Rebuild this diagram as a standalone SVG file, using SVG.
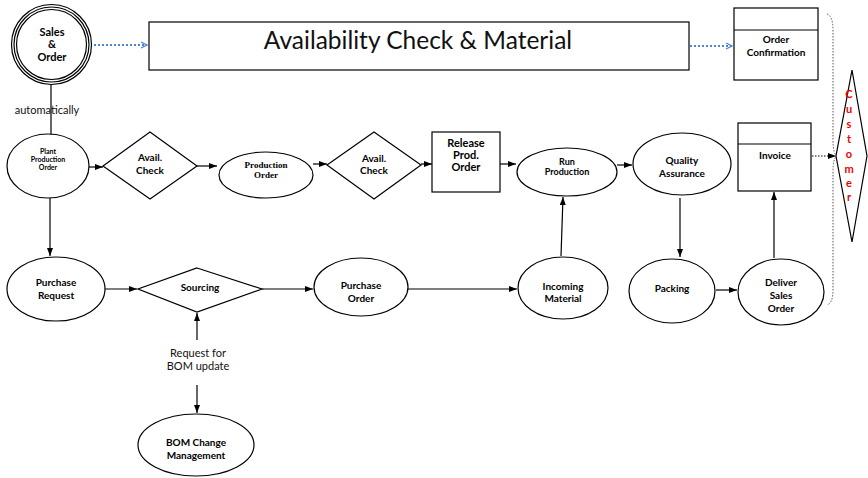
<svg xmlns="http://www.w3.org/2000/svg" width="868" height="478" viewBox="0 0 868 478">
<defs>
<marker id="ah" markerWidth="8" markerHeight="6" refX="8" refY="3" orient="auto" markerUnits="userSpaceOnUse"><path d="M0,0 L8,3 L0,6 Z" fill="#000"/></marker>
<marker id="bh" markerWidth="8" markerHeight="8" refX="7" refY="4" orient="auto" markerUnits="userSpaceOnUse"><path d="M1,1 L7,4 L1,7" fill="none" stroke="#4a86d8" stroke-width="1.3"/></marker>
<style>
.s{fill:#fff;stroke:#000;stroke-width:1.2}
.t{font-family:Lato,"Liberation Sans",sans-serif;font-weight:bold;font-size:10px;text-anchor:middle;fill:#000}
.t7{font-size:7px}
.t9{font-size:9px}
.t11{font-size:11px}
.sf{font-family:"Liberation Serif",serif}
.n{font-family:Lato,"Liberation Sans",sans-serif;font-size:11px;text-anchor:middle;fill:#111}
.c{stroke:#000;stroke-width:1.2;fill:none;marker-end:url(#ah)}
.b{stroke:#4a86d8;stroke-width:2;stroke-dasharray:2,2;fill:none;marker-end:url(#bh)}
</style>
</defs>
<g id="connectors">
<path class="b" d="M94,45 L147,45"/>
<path class="b" d="M690,46 L732,46"/>
<path class="c" d="M51,85 L51,142"/>
<path class="c" d="M89,167 L103,167"/>
<path class="c" d="M197,166 L217,166"/>
<path class="c" d="M313,164 L327,164"/>
<path class="c" d="M421,164 L432,164"/>
<path class="c" d="M500,164 L516,164"/>
<path class="c" d="M617,165 L632,165"/>
<path class="c" d="M680,198 L680,257"/>
<path class="c" d="M716,290 L737,290"/>
<path class="c" d="M774,258 L774,192"/>
<path class="c" d="M561,256 L563,197"/>
<path class="c" d="M407,289 L517,289"/>
<path class="c" d="M50,198 L50,256"/>
<path class="c" d="M104,289 L137,289"/>
<path class="c" d="M262,289 L313,289"/>
<path class="c" d="M197,340 L197,313"/>
<path class="c" d="M197,385 L197,413"/>
<path d="M812,156 L836,156" stroke="#000" stroke-width="1" stroke-dasharray="1.5,1.5" fill="none" marker-end="url(#ah)"/>
<path d="M827,14 Q833,16 833,30 L833,140 Q833,154 837,156 Q833,158 833,172 L833,290 Q833,303 827,305" stroke="#555" stroke-width="1" stroke-dasharray="1.5,1.5" fill="none"/>
<text class="n" x="47" y="114">automatically</text>
<text class="n" x="198" y="357">Request for</text>
<text class="n" x="198" y="370">BOM update</text>
</g>
<g id="sales-order">
<circle class="s" cx="51.5" cy="44.5" r="40"/>
<circle class="s" cx="51.5" cy="44.5" r="37.5"/>
<circle class="s" cx="51.5" cy="44.5" r="35"/>
<text class="t t11" x="52" y="36">Sales</text>
<text class="t t11" x="52" y="48">&amp;</text>
<text class="t t11" x="52" y="61">Order</text>
</g>
<g id="availability">
<rect class="s" x="149" y="22" width="540" height="48"/>
<text x="418" y="49" font-family="Lato,'Liberation Sans',sans-serif" font-size="24.5" text-anchor="middle" fill="#111">Availability Check &amp; Material</text>
</g>
<g id="order-confirmation">
<rect class="s" x="734" y="8" width="84" height="72"/>
<line x1="734" y1="30" x2="818" y2="30" stroke="#000" stroke-width="1.2"/>
<text class="t" x="776" y="43">Order</text>
<text class="t" x="776" y="56">Confirmation</text>
</g>
<g id="customer">
<polygon class="s" points="852,70 867,156 852,242 836,156"/>
<g font-family="Lato,'Liberation Sans',sans-serif" font-weight="bold" font-size="11" fill="#e00" text-anchor="middle">
<text x="849" y="98">C</text><text x="849" y="113">u</text><text x="849" y="128">s</text><text x="849" y="143">t</text><text x="849" y="158">o</text><text x="849" y="173">m</text><text x="849" y="187">e</text><text x="849" y="201">r</text>
</g>
</g>
<g id="plant-production-order">
<ellipse class="s" cx="48" cy="166" rx="41" ry="32"/>
<text class="t t7" x="48" y="154">Plant</text>
<text class="t t7" x="48" y="162">Production</text>
<text class="t t7" x="48" y="170">Order</text>
</g>
<g id="avail-check-1">
<polygon class="s" points="150,132 197,166 150,199 103,166"/>
<text class="t" x="150" y="161">Avail.</text>
<text class="t" x="150" y="174">Check</text>
</g>
<g id="production-order">
<ellipse class="s" cx="266" cy="175" rx="47" ry="23"/>
<text class="t t9 sf" x="266" y="168">Production</text>
<text class="t t9 sf" x="266" y="178">Order</text>
</g>
<g id="avail-check-2">
<polygon class="s" points="374,132 421,165 374,199 327,165"/>
<text class="t" x="374" y="162">Avail.</text>
<text class="t" x="374" y="174">Check</text>
</g>
<g id="release-prod-order">
<rect class="s" x="432" y="132" width="68" height="60"/>
<text class="t t11" x="466" y="147">Release</text>
<text class="t t11" x="466" y="159">Prod.</text>
<text class="t t11" x="466" y="171">Order</text>
</g>
<g id="run-production">
<ellipse class="s" cx="567" cy="172" rx="50" ry="24"/>
<text class="t t9" x="567" y="165">Run</text>
<text class="t t9" x="567" y="175">Production</text>
</g>
<g id="quality-assurance">
<ellipse class="s" cx="682" cy="164" rx="49" ry="31"/>
<text class="t" x="682" y="164">Quality</text>
<text class="t" x="682" y="177">Assurance</text>
</g>
<g id="invoice">
<rect class="s" x="738" y="123" width="73" height="68"/>
<line x1="738" y1="144" x2="811" y2="144" stroke="#000" stroke-width="1.2"/>
<text class="t" x="775" y="159">Invoice</text>
</g>
<g id="purchase-request">
<ellipse class="s" cx="56" cy="289" rx="49" ry="32"/>
<text class="t" x="56" y="286">Purchase</text>
<text class="t" x="56" y="299">Request</text>
</g>
<g id="sourcing">
<polygon class="s" points="197,268 262,289 197,312 138,289"/>
<text class="t" x="200" y="291">Sourcing</text>
</g>
<g id="purchase-order">
<ellipse class="s" cx="361" cy="287" rx="47" ry="29"/>
<text class="t" x="361" y="289">Purchase</text>
<text class="t" x="361" y="302">Order</text>
</g>
<g id="incoming-material">
<ellipse class="s" cx="563" cy="288" rx="45" ry="31"/>
<text class="t" x="563" y="290">Incoming</text>
<text class="t" x="563" y="302">Material</text>
</g>
<g id="packing">
<ellipse class="s" cx="672" cy="291" rx="43" ry="32"/>
<text class="t" x="672" y="292">Packing</text>
</g>
<g id="deliver-sales-order">
<ellipse class="s" cx="781" cy="292" rx="43" ry="33"/>
<text class="t" x="781" y="286">Deliver</text>
<text class="t" x="781" y="299">Sales</text>
<text class="t" x="781" y="312">Order</text>
</g>
<g id="bom-change-management">
<ellipse class="s" cx="196" cy="445" rx="58" ry="31"/>
<text class="t" x="196" y="446">BOM Change</text>
<text class="t" x="196" y="459">Management</text>
</g>
</svg>
